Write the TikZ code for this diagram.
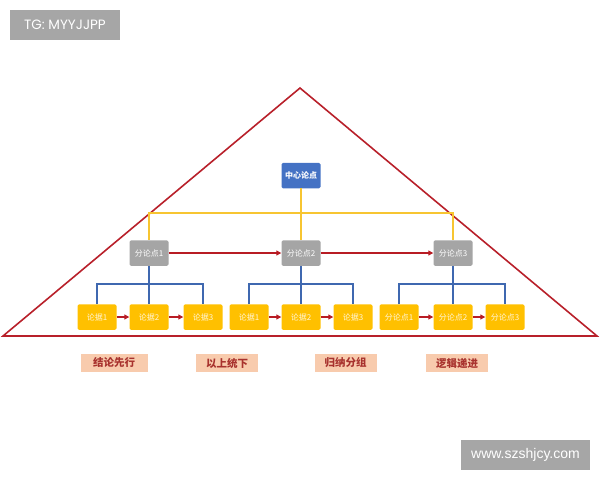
\documentclass[tikz,border=0pt]{standalone}
\usepackage{fontspec}
\setmainfont{Liberation Sans}
\newfontfamily\cjk{Noto Sans CJK SC}
\newfontfamily\tgfont{Poppins}
\usetikzlibrary{arrows.meta}
\definecolor{tri}{HTML}{B8202A}
\definecolor{bluebox}{HTML}{4472C4}
\definecolor{graybox}{HTML}{A5A5A5}
\definecolor{yelbox}{HTML}{FFC000}
\definecolor{yline}{HTML}{F7C531}
\definecolor{bline}{HTML}{3F68B0}
\definecolor{arr}{HTML}{B81C24}
\definecolor{lab}{HTML}{F8CBAD}
\definecolor{labtext}{HTML}{A8322E}
\definecolor{wm}{HTML}{A6A6A6}
\tikzset{
  box/.style={rounded corners=1.5pt, minimum width=39pt, minimum height=25.5pt, inner sep=0pt, text=white, font=\cjk\fontsize{8}{9}\selectfont},
  bluen/.style={box, fill=bluebox, font=\cjk\bfseries\fontsize{8}{9}\selectfont},
  grayn/.style={box, fill=graybox},
  yeln/.style={box, fill=yelbox, text=white!85!yelbox},
  labn/.style={fill=lab, minimum width=62pt, minimum height=18pt, inner sep=0pt, text=labtext, font=\cjk\bfseries\fontsize{10.5}{11}\selectfont},
  wmn/.style={fill=wm, text=white, inner sep=0pt},
  yl/.style={draw=yline, line width=1.6pt},
  bl/.style={draw=bline, line width=1.5pt},
  ra/.style={draw=arr, line width=1.5pt, -{Triangle[length=5pt,width=5pt]}},
  trin/.style={draw=tri, line width=1.6pt, line join=miter},
}
\begin{document}
\begin{tikzpicture}[x=1pt,y=-1pt]
\useasboundingbox (0,0) rectangle (600,480);
% triangle
\coordinate (apex) at (300,88);
\coordinate (bl) at (3,336);
\coordinate (br) at (597,336);
\draw[trin] (apex) -- (br) -- (bl) -- cycle;
% watermarks
\node[wmn, minimum width=110pt, minimum height=30pt, font=\tgfont\fontsize{13.5}{14}\selectfont] (tg) at (65,25) {TG: MYYJJPP};
\node[wmn, minimum width=129pt, minimum height=30pt, font=\fontsize{14}{15}\selectfont] (www) at (525.5,455) {www.szshjcy.com};
% nodes
\node[bluen] (c) at (301,175.5) {中心论点};
\node[grayn] (g1) at (149,253) {分论点1};
\node[grayn] (g2) at (301,253) {分论点2};
\node[grayn] (g3) at (453,253) {分论点3};
\node[yeln] (a1) at (97,317) {论据1};
\node[yeln] (a2) at (149,317) {论据2};
\node[yeln] (a3) at (203,317) {论据3};
\node[yeln] (b1) at (249,317) {论据1};
\node[yeln] (b2) at (301,317) {论据2};
\node[yeln] (b3) at (353,317) {论据3};
\node[yeln] (d1) at (399,317) {分论点1};
\node[yeln] (d2) at (453,317) {分论点2};
\node[yeln] (d3) at (505,317) {分论点3};
% yellow connectors
\coordinate (ybar) at (0,213);
\draw[yl] (c.south) -- (c.south |- ybar);
\draw[yl] (g1.north) -- (g1.north |- ybar) -- (g3.north |- ybar) -- (g3.north);
\draw[yl] (g2.north) -- (g2.north |- ybar);
% blue connectors
\coordinate (bbar) at (0,284);
\draw[bl] (g1.south) -- (a2.north);
\draw[bl] (a1.north) -- (a1.north |- bbar) -- (a3.north |- bbar) -- (a3.north);
\draw[bl] (g2.south) -- (b2.north);
\draw[bl] (b1.north) -- (b1.north |- bbar) -- (b3.north |- bbar) -- (b3.north);
\draw[bl] (g3.south) -- (d2.north);
\draw[bl] (d1.north) -- (d1.north |- bbar) -- (d3.north |- bbar) -- (d3.north);
% red arrows
\draw[ra] (g1.east) -- (g2.west);
\draw[ra] (g2.east) -- (g3.west);
\draw[ra] (a1.east) -- (a2.west);
\draw[ra] (a2.east) -- (a3.west);
\draw[ra] (b1.east) -- (b2.west);
\draw[ra] (b2.east) -- (b3.west);
\draw[ra] (d1.east) -- (d2.west);
\draw[ra] (d2.east) -- (d3.west);
% labels
\node[labn, minimum width=67pt] (l1) at (114,363) {结论先行};
\node[labn] (l2) at (227,363) {以上统下};
\node[labn] (l3) at (345.5,363) {归纳分组};
\node[labn] (l4) at (457,363) {逻辑递进};
\end{tikzpicture}
\end{document}
